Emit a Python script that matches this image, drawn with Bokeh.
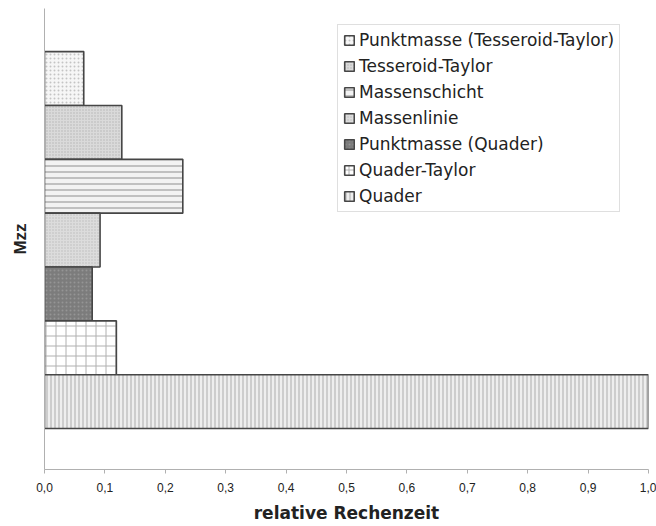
from bokeh.plotting import figure
from bokeh.models import Range1d, FixedTicker, Legend, LegendItem
from bokeh.embed import file_html
from bokeh.resources import INLINE

# ---- data ----
methods = ["Punktmasse (Tesseroid-Taylor)", "Tesseroid-Taylor", "Massenschicht",
           "Massenlinie", "Punktmasse (Quader)", "Quader-Taylor", "Quader"]
rel_time = [0.065, 0.128, 0.229, 0.092, 0.079, 0.119, 1.0]
tick_values = [0.0, 0.1, 0.2, 0.3, 0.4, 0.5, 0.6, 0.7, 0.8, 0.9, 1.0]
tick_labels = ["0,0", "0,1", "0,2", "0,3", "0,4", "0,5", "0,6", "0,7", "0,8", "0,9", "1,0"]
category = "Mzz"
x_title = "relative Rechenzeit"

# ---- styles per series ----
styles = [
    dict(fill_color="#f6f6f6", hatch_pattern="dot", hatch_color="#c4c4c4", hatch_scale=4, hatch_weight=1),
    dict(fill_color="#dadada", hatch_pattern="dot", hatch_color="#b4b4b4", hatch_scale=3, hatch_weight=1),
    dict(fill_color="#f2f2f2", hatch_pattern="horizontal_line", hatch_color="#c0c0c0", hatch_scale=6, hatch_weight=2),
    dict(fill_color="#dcdcdc", hatch_pattern="dot", hatch_color="#bcbcbc", hatch_scale=3, hatch_weight=1),
    dict(fill_color="#7c7c7c", hatch_pattern="dot", hatch_color="#959595", hatch_scale=4, hatch_weight=1),
    dict(fill_color="#ffffff", hatch_pattern="cross", hatch_color="#b0b0b0", hatch_scale=10, hatch_weight=1),
    dict(fill_color="#eeeeee", hatch_pattern="vertical_line", hatch_color="#c2c2c2", hatch_scale=4, hatch_weight=1.5),
]

n = len(methods)
p = figure(width=656, height=526, output_backend="svg", toolbar_location=None,
           x_range=Range1d(0, 1), y_range=Range1d(-0.5 - 0.76, n - 0.5 + 0.80),
           min_border_left=44, min_border_right=8, min_border_top=8, min_border_bottom=57)
p.outline_line_color = None
p.xgrid.visible = False
p.ygrid.visible = False
p.background_fill_color = "white"
p.border_fill_color = "white"

items = []
for i, (m, v) in enumerate(zip(methods, rel_time)):
    ypos = n - 1 - i
    r = p.hbar(y=[ypos], right=[v], left=0, height=1.0,
               line_color="#464646", line_width=1.6, **styles[i])
    items.append(LegendItem(label=m, renderers=[r]))

legend = Legend(items=items, location=(293, 257))
legend.label_text_font = "DejaVu Sans"
legend.label_text_font_size = "17px"
legend.label_text_color = "#222222"
legend.glyph_width = 12
legend.glyph_height = 12
legend.label_height = 20
legend.label_standoff = 4
legend.spacing = 6
legend.padding = 5
legend.margin = 0
legend.border_line_color = "#c0c0c0"
legend.border_line_width = 1
legend.background_fill_alpha = 1
p.add_layout(legend, "center")

xa = p.xaxis[0]
xa.ticker = FixedTicker(ticks=tick_values)
xa.major_label_overrides = {t: l for t, l in zip(tick_values, tick_labels)}
xa.major_label_text_font = "Liberation Sans"
xa.major_label_text_font_size = "12px"
xa.major_label_text_color = "#222222"
xa.major_label_standoff = 9
xa.axis_line_color = "#b0b0b0"
xa.major_tick_line_color = "#b0b0b0"
xa.major_tick_in = 0
xa.major_tick_out = 4
xa.minor_tick_line_color = None
xa.axis_label = x_title
xa.axis_label_text_font = "DejaVu Sans"
xa.axis_label_text_font_style = "bold"
xa.axis_label_text_font_size = "17px"
xa.axis_label_text_color = "#222222"
xa.axis_label_standoff = 8

ya = p.yaxis[0]
ya.ticker = FixedTicker(ticks=[])
ya.axis_line_color = "#b0b0b0"
ya.major_tick_line_color = None
ya.minor_tick_line_color = None
ya.axis_label = category
ya.axis_label_text_font = "Liberation Sans"
ya.axis_label_text_font_style = "bold"
ya.axis_label_text_font_size = "17px"
ya.axis_label_text_color = "#222222"
ya.axis_label_standoff = 15

open("out.html", "w").write(file_html(p, INLINE))
